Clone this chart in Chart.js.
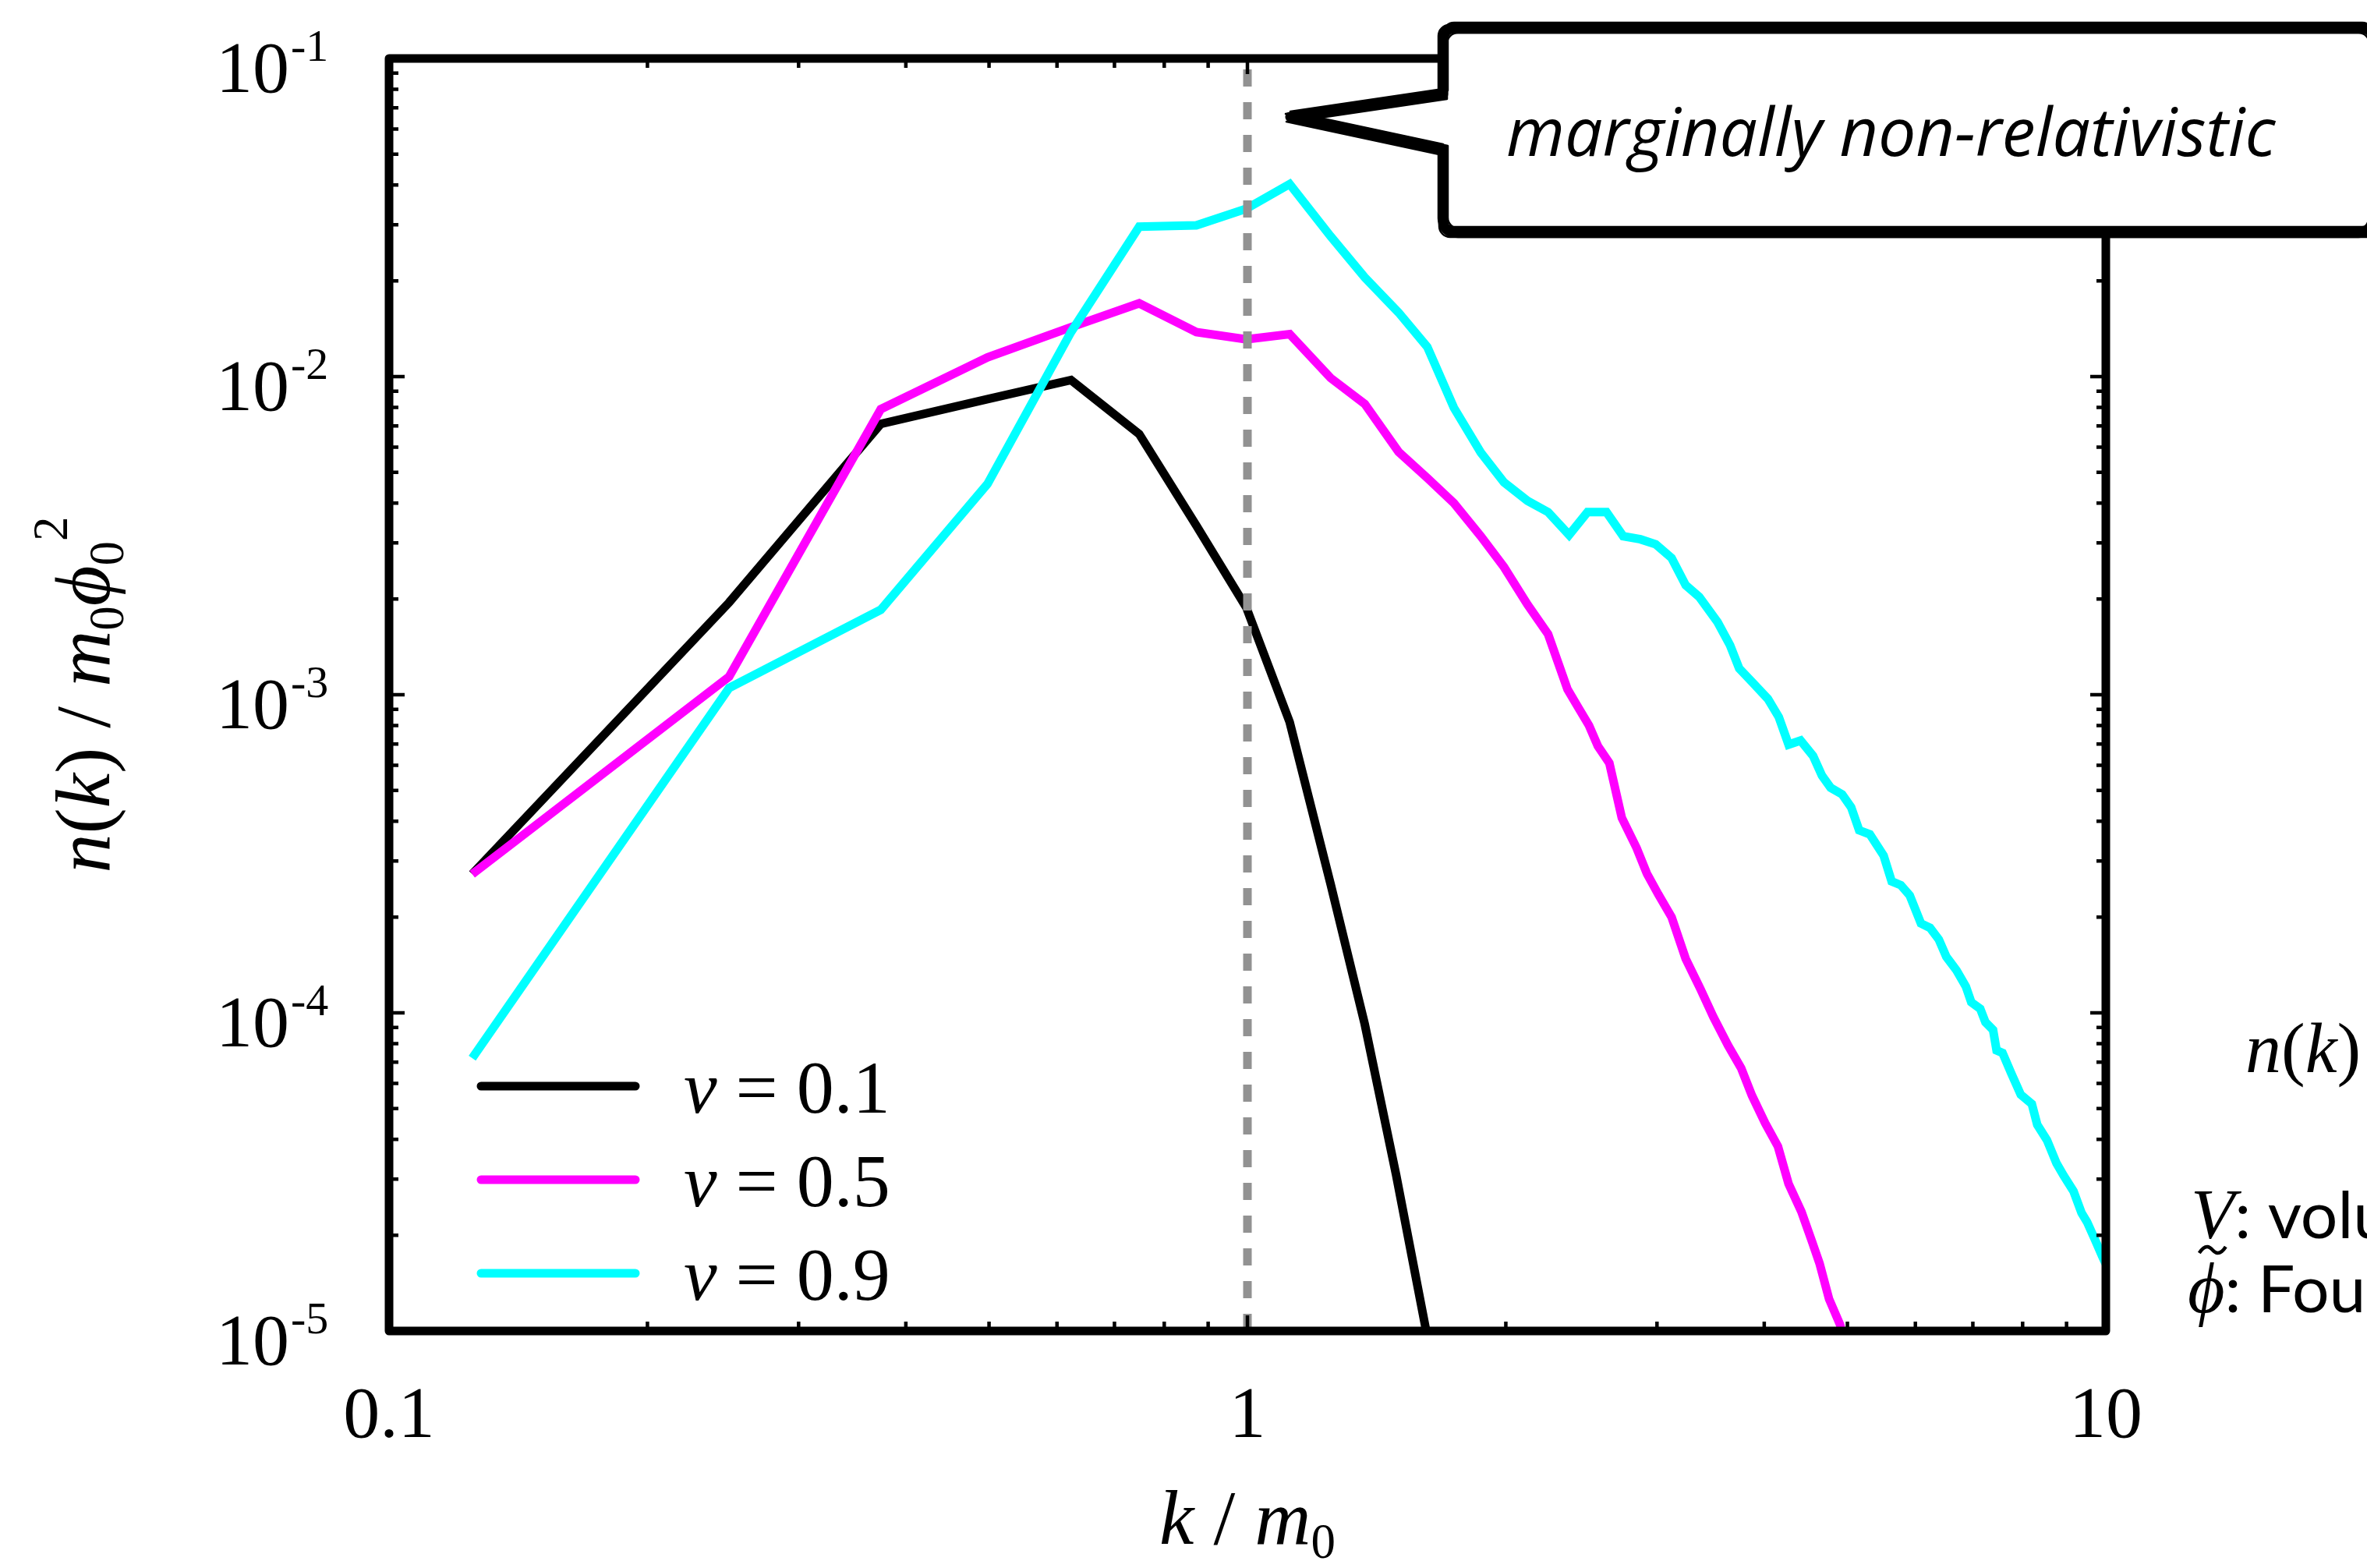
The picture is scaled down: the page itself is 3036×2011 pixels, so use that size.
<!DOCTYPE html>
<html>
<head>
<meta charset="utf-8">
<script src="https://cdn.jsdelivr.net/npm/chart.js@4.4.1/dist/chart.umd.min.js"></script>
<style>
  html, body { margin: 0; padding: 0; background: #fff; }
  #wrap { width: 3036px; height: 2011px; }
</style>
</head>
<body>
<div id="wrap"><canvas id="spectrum" width="3036" height="2011"></canvas></div>
<script>
"use strict";

// k / m0 and n(k) / m0 phi0^2
var kV01 = [0.125, 0.249, 0.374, 0.498, 0.623, 0.748, 0.872, 0.997, 1.12, 1.25, 1.37, 1.49, 1.62];
var nV01 = [2.73e-4, 1.95e-3, 7.1e-3, 8.5e-3, 9.75e-3, 6.6e-3, 3.4e-3, 1.88e-3, 8.2e-4, 2.54e-4, 9.2e-5, 3.1e-5, 9.6e-6];

var kV05 = [0.125, 0.249, 0.374, 0.498, 0.623, 0.748, 0.872, 0.997, 1.12, 1.25,
            1.37, 1.50, 1.62, 1.74, 1.87, 1.99, 2.12, 2.24, 2.36, 2.43,
            2.50, 2.56, 2.64, 2.73, 2.84, 2.92, 3.01, 3.12, 3.24, 3.37,
            3.49, 3.63, 3.76, 3.87, 4.01, 4.15, 4.27, 4.42, 4.55, 4.64,
            4.76, 4.90, 4.99];
var nV05 = [2.73e-4, 1.14e-3, 7.9e-3, 1.15e-2, 1.43e-2, 1.70e-2, 1.38e-2, 1.31e-2, 1.36e-2, 9.9e-3,
            8.2e-3, 5.8e-3, 4.8e-3, 4.0e-3, 3.15e-3, 2.52e-3, 1.92e-3, 1.55e-3, 1.04e-3, 9.1e-4,
            8.0e-4, 6.9e-4, 6.1e-4, 4.1e-4, 3.3e-4, 2.74e-4, 2.36e-4, 2.0e-4, 1.48e-4, 1.19e-4,
            9.7e-5, 7.9e-5, 6.7e-5, 5.5e-5, 4.5e-5, 3.8e-5, 2.9e-5, 2.37e-5, 1.9e-5, 1.63e-5,
            1.26e-5, 1.05e-5, 8.8e-6];

var kV09 = [0.125, 0.249, 0.374, 0.498, 0.623, 0.748, 0.872, 0.997, 1.12, 1.25,
            1.37, 1.50, 1.62, 1.74, 1.87, 1.99, 2.12, 2.24, 2.37, 2.49,
            2.62, 2.74, 2.87, 2.99, 3.12, 3.24, 3.36, 3.53, 3.65, 3.74,
            3.88, 4.04, 4.16, 4.27, 4.41, 4.56, 4.67, 4.78, 4.93, 5.05,
            5.16, 5.31, 5.51, 5.63, 5.77, 5.91, 6.09, 6.24, 6.39, 6.52,
            6.70, 6.87, 6.97, 7.14, 7.24, 7.39, 7.46, 7.58, 7.76, 7.96,
            8.20, 8.32, 8.54, 8.76, 8.93, 9.17, 9.37, 9.51, 9.71, 9.92,
            10.05];
var nV09 = [7.2e-5, 1.05e-3, 1.85e-3, 4.6e-3, 1.38e-2, 2.96e-2, 2.99e-2, 3.37e-2, 4.03e-2, 2.76e-2,
            2.05e-2, 1.59e-2, 1.24e-2, 7.98e-3, 5.77e-3, 4.65e-3, 4.07e-3, 3.75e-3, 3.18e-3, 3.75e-3,
            3.75e-3, 3.15e-3, 3.08e-3, 2.97e-3, 2.69e-3, 2.21e-3, 2.03e-3, 1.69e-3, 1.43e-3, 1.21e-3,
            1.09e-3, 9.7e-4, 8.5e-4, 6.97e-4, 7.18e-4, 6.42e-4, 5.57e-4, 5.1e-4, 4.86e-4, 4.43e-4,
            3.75e-4, 3.64e-4, 3.12e-4, 2.59e-4, 2.52e-4, 2.34e-4, 1.91e-4, 1.85e-4, 1.70e-4, 1.5e-4,
            1.36e-4, 1.21e-4, 1.08e-4, 1.03e-4, 9.35e-5, 8.84e-5, 7.62e-5, 7.48e-5, 6.45e-5, 5.53e-5,
            5.17e-5, 4.45e-5, 3.98e-5, 3.37e-5, 3.08e-5, 2.75e-5, 2.35e-5, 2.2e-5, 1.94e-5, 1.70e-5,
            1.58e-5];

var speeds = ["0.1", "0.5", "0.9"];
var lineColors = ["#000000", "#ff00ff", "#00ffff"];
var xTicks = [0.1, 1, 10];
var xTickLabels = ["0.1", "1", "10"];
var yTicks = [1e-1, 1e-2, 1e-3, 1e-4, 1e-5];
var yTickExps = ["-1", "-2", "-3", "-4", "-5"];
var markK = 1;

var SERIF = '"Liberation Serif", "DejaVu Serif", serif';
var LINE_W = 11;

function toPoints(ks, ns) {
    return ks.map(function (k, i) { return { x: k, y: ns[i] }; });
}

// text made of pieces with their own font and vertical shift
function drawRich(ctx, parts, x, y, align) {
    var total = 0;
    parts.forEach(function (p) { ctx.font = p.f; p.w = ctx.measureText(p.t).width; total += p.w; });
    var cx = align === "center" ? x - total / 2 : (align === "right" ? x - total : x);
    ctx.textAlign = "left";
    ctx.textBaseline = "alphabetic";
    parts.forEach(function (p) {
        ctx.font = p.f;
        ctx.fillText(p.t, cx, y + (p.dy || 0));
        cx += p.w;
    });
    return total;
}

function drawCallout(ctx) {
    var x1 = 1851, y1 = 36, x2 = 3044, y2 = 298, r = 14;
    var path = function (ox, oy) {
        ctx.beginPath();
        ctx.moveTo(x1 + r + ox, y1 + oy);
        ctx.lineTo(x2 - r + ox, y1 + oy);
        ctx.arcTo(x2 + ox, y1 + oy, x2 + ox, y1 + r + oy, r);
        ctx.lineTo(x2 + ox, y2 - r + oy);
        ctx.arcTo(x2 + ox, y2 + oy, x2 - r + ox, y2 + oy, r);
        ctx.lineTo(x1 + r + ox, y2 + oy);
        ctx.arcTo(x1 + ox, y2 + oy, x1 + ox, y2 - r + oy, r);
        ctx.lineTo(x1 + ox, 192 + oy);
        ctx.lineTo(1655 + ox, 150 + oy);
        ctx.lineTo(x1 + ox, 121 + oy);
        ctx.lineTo(x1 + ox, y1 + r + oy);
        ctx.arcTo(x1 + ox, y1 + oy, x1 + r + ox, y1 + oy, r);
        ctx.closePath();
    };
    path(0, 0);
    ctx.fillStyle = "#fff";
    ctx.fill();
    ctx.strokeStyle = "#000";
    ctx.lineJoin = "round";
    ctx.lineWidth = 13;
    ctx.stroke();
    // a few thin offset passes for the sketchy edge
    ctx.lineWidth = 2.5;
    [[-6, -4], [5, 6], [-5, 6], [6, -5], [0, -7]].forEach(function (o) { path(o[0], o[1]); ctx.stroke(); });

    ctx.fillStyle = "#000";
    ctx.font = 'italic 86px "Open Sans", "DejaVu Sans", sans-serif';
    ctx.textAlign = "left";
    ctx.textBaseline = "alphabetic";
    ctx.fillText("marginally non-relativistic", 1932, 200, 1034);
}

var decorations = {
    id: "decorations",
    afterDraw: function (chart) {
        var ctx = chart.ctx, a = chart.chartArea;
        var xs = chart.scales.x, ys = chart.scales.y;
        ctx.save();

        // frame
        ctx.strokeStyle = "#000";
        ctx.lineJoin = "round";
        ctx.lineWidth = 11;
        ctx.strokeRect(a.left, a.top, a.right - a.left, a.bottom - a.top);

        // ticks, inward on all four sides
        ctx.lineWidth = 4.5;
        ctx.beginPath();
        var d, m, v, p, len;
        for (d = -1; d <= 0; d++) {
            for (m = 1; m <= 9; m++) {
                v = m * Math.pow(10, d);
                p = xs.getPixelForValue(v);
                len = m === 1 ? 20 : 12;
                ctx.moveTo(p, a.bottom); ctx.lineTo(p, a.bottom - len);
                ctx.moveTo(p, a.top); ctx.lineTo(p, a.top + len);
            }
        }
        for (d = -5; d <= -2; d++) {
            for (m = 1; m <= 9; m++) {
                v = m * Math.pow(10, d);
                p = ys.getPixelForValue(v);
                len = m === 1 ? 20 : 12;
                ctx.moveTo(a.left, p); ctx.lineTo(a.left + len, p);
                ctx.moveTo(a.right, p); ctx.lineTo(a.right - len, p);
            }
        }
        ctx.stroke();

        ctx.fillStyle = "#000";

        // y tick labels 10^-n
        yTicks.forEach(function (t, i) {
            var py = ys.getPixelForValue(t);
            ctx.textBaseline = "alphabetic";
            ctx.font = "94px " + SERIF;
            ctx.textAlign = "right";
            ctx.fillText("10", a.left - 128, py + 43);
            ctx.font = "58px " + SERIF;
            ctx.textAlign = "left";
            ctx.fillText(yTickExps[i], a.left - 126, py + 3);
        });

        // x tick labels
        ctx.font = "94px " + SERIF;
        ctx.textAlign = "center";
        xTicks.forEach(function (t, i) {
            ctx.fillText(xTickLabels[i], xs.getPixelForValue(t), a.bottom + 136);
        });

        // axis titles
        var it = "italic 100px " + SERIF, up = "100px " + SERIF, sm = "63px " + SERIF;
        drawRich(ctx, [
            { t: "k", f: it }, { t: " / ", f: up }, { t: "m", f: it }, { t: "0", f: sm, dy: 18 }
        ], (a.left + a.right) / 2, 1980, "center");

        ctx.save();
        ctx.translate(140, (a.top + a.bottom) / 2);
        ctx.rotate(-Math.PI / 2);
        drawRich(ctx, [
            { t: "n", f: it }, { t: "(", f: up }, { t: "k", f: it }, { t: ")", f: up },
            { t: " / ", f: up }, { t: "m", f: it }, { t: "0", f: sm, dy: 18 },
            { t: "\u03d5", f: it }, { t: "0", f: sm, dy: 18 }, { t: "2", f: sm, dy: -54 }
        ], 0, 0, "center");
        ctx.restore();

        // legend, v = 0.1 on top
        var rows = [1393, 1513, 1633];
        var sets = chart.data.datasets.filter(function (ds) { return ds.speed; });
        sets.sort(function (p, q) { return parseFloat(p.speed) - parseFloat(q.speed); });
        sets.forEach(function (ds, i) {
            ctx.strokeStyle = ds.borderColor;
            ctx.lineWidth = LINE_W;
            ctx.lineCap = "round";
            ctx.beginPath();
            ctx.moveTo(617, rows[i]);
            ctx.lineTo(815, rows[i]);
            ctx.stroke();
            drawRich(ctx, [
                { t: "v", f: "italic 96px " + SERIF }, { t: " = " + ds.speed, f: "96px " + SERIF }
            ], 877, rows[i] + 34, "left");
        });
        ctx.lineCap = "butt";

        // notes at the right edge (cut off by the page in the original)
        ctx.fillStyle = "#000";
        var nit = "italic 92px " + SERIF, nup = "92px " + SERIF, sans = '84px Lato, "DejaVu Sans", sans-serif';
        drawRich(ctx, [{ t: "n", f: nit }, { t: "(", f: nup }, { t: "k", f: nit }, { t: ")", f: nup }], 2880, 1375, "left");
        drawRich(ctx, [{ t: "V", f: nit }, { t: ": volume", f: sans }], 2810, 1588, "left");
        ctx.font = nit;
        var phiW = ctx.measureText("\u03d5").width;
        drawRich(ctx, [{ t: "\u03d5", f: nit }, { t: ": Fourier", f: sans }], 2806, 1683, "left");
        // tilde over phi
        var tx = 2806 + phiW / 2 + 8, ty = 1603;
        ctx.strokeStyle = "#000";
        ctx.lineWidth = 4.5;
        ctx.beginPath();
        ctx.moveTo(tx - 17, ty + 4);
        ctx.bezierCurveTo(tx - 8, ty - 10, tx - 2, ty - 2, tx, ty);
        ctx.bezierCurveTo(tx + 2, ty + 2, tx + 8, ty + 10, tx + 17, ty - 4);
        ctx.stroke();

        drawCallout(ctx);
        ctx.restore();
    }
};

var ctx = document.getElementById("spectrum").getContext("2d");
var spectrumChart = new Chart(ctx, {
    type: "line",
    data: {
        datasets: [
            {
                label: "k = m0",
                data: [{ x: markK, y: 1e-5 }, { x: markK, y: 1e-1 }],
                borderColor: "#929292",
                borderWidth: 11,
                borderDash: [22, 20]
            },
            {
                label: "v = 0.9",
                speed: speeds[2],
                data: toPoints(kV09, nV09),
                borderColor: lineColors[2],
                borderWidth: LINE_W
            },
            {
                label: "v = 0.5",
                speed: speeds[1],
                data: toPoints(kV05, nV05),
                borderColor: lineColors[1],
                borderWidth: LINE_W
            },
            {
                label: "v = 0.1",
                speed: speeds[0],
                data: toPoints(kV01, nV01),
                borderColor: lineColors[0],
                borderWidth: LINE_W
            }
        ]
    },
    options: {
        responsive: false,
        animation: false,
        devicePixelRatio: 1,
        layout: { padding: { left: 499, right: 335, top: 75, bottom: 304 } },
        datasets: { line: { clip: 0, pointRadius: 0, tension: 0, fill: false } },
        scales: {
            x: { type: "logarithmic", min: 0.1, max: 10, display: false },
            y: { type: "logarithmic", min: 1e-5, max: 1e-1, display: false }
        },
        plugins: {
            legend: { display: false },
            tooltip: { enabled: false }
        }
    },
    plugins: [decorations]
});
</script>
</body>
</html>
